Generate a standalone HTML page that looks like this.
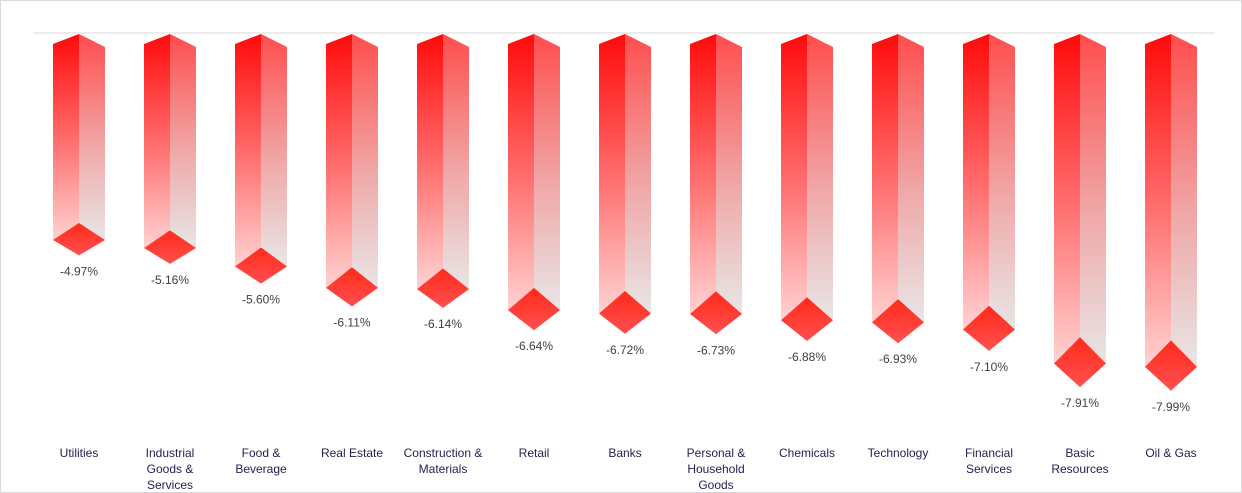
<!DOCTYPE html>
<html><head><meta charset="utf-8">
<style>
body{margin:0;background:#fff;}
#wrap{position:relative;width:1242px;height:493px;overflow:hidden;}
svg{position:absolute;left:0;top:0;}
text{font-family:"Liberation Sans",Arial,sans-serif;font-size:12px;}
</style></head>
<body>
<div id="wrap">
<svg id="chart" width="1242" height="493">
<defs>
<linearGradient id="gFront" x1="0" y1="0" x2="0" y2="1"><stop offset="0" stop-color="#ff0a0a"/><stop offset="0.5" stop-color="#ff6a6a"/><stop offset="1" stop-color="#ffd2d2"/></linearGradient>
<linearGradient id="gSide" x1="0" y1="0" x2="0" y2="1"><stop offset="0" stop-color="#ff4d4d"/><stop offset="0.55" stop-color="#f0a8a8"/><stop offset="1" stop-color="#e8e6e6"/></linearGradient>
<linearGradient id="gDia" x1="0" y1="0" x2="0" y2="1"><stop offset="0" stop-color="#ff2a1a"/><stop offset="1" stop-color="#ff5050"/></linearGradient>
</defs>
<rect x="0.5" y="0.5" width="1241" height="492" fill="none" stroke="#d9d9d9"/>
<line x1="33" y1="33" x2="1215" y2="33" stroke="#d9d9d9"/>
</svg>
</div>
<script>
const categories=[["Utilities"],["Industrial","Goods &","Services"],["Food &","Beverage"],["Real Estate"],["Construction &","Materials"],["Retail"],["Banks"],["Personal &","Household","Goods"],["Chemicals"],["Technology"],["Financial","Services"],["Basic","Resources"],["Oil & Gas"]];
const values=[-4.97,-5.16,-5.60,-6.11,-6.14,-6.64,-6.72,-6.73,-6.88,-6.93,-7.10,-7.91,-7.99];
const valueLabels=["-4.97%","-5.16%","-5.60%","-6.11%","-6.14%","-6.64%","-6.72%","-6.73%","-6.88%","-6.93%","-7.10%","-7.91%","-7.99%"];
const svg=document.getElementById('chart');
const NS='http://www.w3.org/2000/svg';
function xScale(i){return 79+i*91;}
function yScale(v){return 31.3+(-v)*42;}
function mk(tag,attrs){const e=document.createElementNS(NS,tag);for(const k in attrs)e.setAttribute(k,attrs[k]);svg.appendChild(e);return e;}
values.forEach((v,i)=>{
  const c=xScale(i),y=yScale(v),w=26;
  const up=0.075*(y-33)+1.5, dn=0.9*up;
  const f=mk('polygon',{points:`${c-w},44 ${c},34 ${c},${y-up} ${c-w},${y}`,fill:'url(#gFront)'});
  
  
  const s=mk('polygon',{points:`${c},34 ${c+w},47 ${c+w},${y} ${c},${y-up}`,fill:'url(#gSide)'});
  
  
  const d=mk('polygon',{points:`${c-w},${y} ${c},${y-up} ${c+w},${y} ${c},${y+dn}`,fill:'url(#gDia)'});
  
  
  const t=mk('text',{x:c,y:y+dn+20,'text-anchor':'middle',fill:'#404040'});
  t.textContent=valueLabels[i];
  
  
  const ct=mk('text',{x:c,y:457,'text-anchor':'middle',fill:'#1f1f4f'});
  
  
  categories[i].forEach((ln,j)=>{const ts=document.createElementNS(NS,'tspan');ts.setAttribute('x',c);ts.setAttribute('dy',j?16:0);ts.textContent=ln;ct.appendChild(ts);});
});
</script>
</body></html>
